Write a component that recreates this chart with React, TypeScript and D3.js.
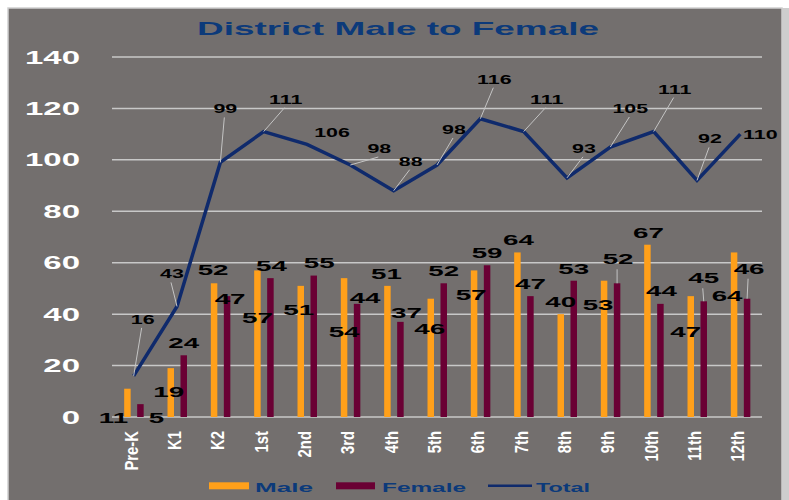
import React from 'react'
import * as d3 from 'd3'

// grade levels and head counts
const categories = ['Pre-K', 'K1', 'K2', '1st', '2nd', '3rd', '4th', '5th', '6th', '7th', '8th', '9th', '10th', '11th', '12th']
const male = [11, 19, 52, 57, 51, 54, 51, 46, 57, 64, 40, 53, 67, 47, 64]
const female = [5, 24, 47, 54, 55, 44, 37, 52, 59, 47, 53, 52, 44, 45, 46]
const total = [16, 43, 99, 111, 106, 98, 88, 98, 116, 111, 93, 105, 111, 92, 110]
const yTicks = [0, 20, 40, 60, 80, 100, 120, 140]
const series = ['Male', 'Female']

// label placement (px offsets from the mark), as the spreadsheet left them
const maleDx = [-14, -2, -1, 0, -2, 0, -1, -1, -3, 1, 0, -6, 1, -5, -7]
const maleDy = [34, 29, -8, 53, 29, 59, -7, 35, 30, -7, -7.5, 29, -7, 41, 49]
const femaleDx = [16, 0, 3, 1, 5.5, 8, 6, 0, 0, 0, 0, 1, 1, 0, 2]
const femaleDy = [19, -7, 8, -7.4, -7.3, -1, -3.6, -7.6, -7, -7, -6.7, -19, -8, -18, -25]
const totalDx = [9, -5, 5, 22, 25, 29, 17, 17, 14, 23, 17, 20, 21, 13, 20]
const totalDy = [-52, -28, -49, -28, -7, -12, -25, -31, -35, -28, -25, -34, -38, -37, 5]

const W = 789
const H = 500
const font = '"Liberation Sans", Arial, sans-serif'
const cMale = '#ffa01a'
const cFemale = '#6a0034'
const cTotal = '#0f2a6c'
const cBlue = '#0c3a7a'
const cGrid = '#c8c8c8'

export default function App() {
  const x = d3.scaleBand().domain(categories).range([112, 762])
  const bw = x.bandwidth()
  const x1 = d3.scaleBand().domain(series).range([bw / 2 - 9.5, bw / 2 + 10]).paddingInner(0.5)
  const y = d3.scaleLinear().domain([0, 140]).range([417, 57])

  const cx = (i: number) => (x(categories[i]) as number) + bw / 2
  const line = d3.line<number>().x((d, i) => cx(i)).y(d => y(d))

  const barLabel = (v: number, bx: number, by: number, key: string) => (
    <text key={key} transform={`translate(${bx},${by}) scale(1.8,1)`} textAnchor="middle"
      fontFamily={font} fontWeight="bold" fontSize={15.4} fill="#000">{v}</text>
  )

  return (
    <svg width={W} height={H} style={{ position: 'absolute', left: 0, top: 0 }}>
      <rect x={0} y={0} width={W} height={H} fill="#fff" />
      <rect x={8} y={8} width={774} height={500} fill="#736f6e" stroke="#cfcfcf" strokeWidth={1.5} />
      <rect x={782} y={8} width={7} height={492} fill="#cdcdcd" />

      <text x={398} y={35} textAnchor="middle" fontFamily={font} fontWeight="bold" fontSize={18.6}
        fill={cBlue} textLength={402} lengthAdjust="spacingAndGlyphs">District Male to Female</text>

      {yTicks.map(t => (
        <g key={t}>
          <line x1={112} x2={762} y1={y(t)} y2={y(t)} stroke={cGrid} strokeWidth={1.5} />
          <text transform={`translate(80,${y(t) + 6.6}) scale(1.83,1)`} textAnchor="end"
            fontFamily={font} fontWeight="bold" fontSize={18} fill="#fff">{t}</text>
        </g>
      ))}

      {categories.map((c, i) => (
        <g key={c}>
          <rect x={(x(c) as number) + (x1('Male') as number)} width={x1.bandwidth()}
            y={y(male[i])} height={y(0) - y(male[i])} fill={cMale} />
          <rect x={(x(c) as number) + (x1('Female') as number)} width={x1.bandwidth()}
            y={y(female[i])} height={y(0) - y(female[i])} fill={cFemale} />
          <text transform={`translate(${cx(i) - 2.5},431) scale(1.1,0.9) rotate(-90)`} textAnchor="end"
            dy="0.36em" fontFamily={font} fontWeight="bold" fontSize={16.5} fill="#fff">{c}</text>
        </g>
      ))}

      <path d={line(total) || ''} fill="none" stroke={cTotal} strokeWidth={3.5} />

      {categories.map((c, i) => {
        const mx = (x(c) as number) + (x1('Male') as number) + x1.bandwidth() / 2
        const fx = (x(c) as number) + (x1('Female') as number) + x1.bandwidth() / 2
        const lx = fx + femaleDx[i]
        const ly = y(female[i]) + femaleDy[i]
        const tx = cx(i) + totalDx[i]
        const ty = y(total[i]) + totalDy[i]
        return (
          <g key={'lab' + c}>
            {femaleDy[i] < -12 && (
              <line x1={lx - 1} y1={ly + 5} x2={fx} y2={y(female[i])} stroke="#c4c4c4" strokeWidth={1} />
            )}
            {totalDy[i] < -10 && (
              <line x1={tx - 1} y1={ty + 4} x2={cx(i)} y2={y(total[i])} stroke="#c4c4c4" strokeWidth={1} />
            )}
            {barLabel(male[i], mx + maleDx[i], y(male[i]) + maleDy[i], 'm' + c)}
            {barLabel(female[i], lx, ly, 'f' + c)}
            <text transform={`translate(${tx},${ty}) scale(1.7,1)`} textAnchor="middle"
              fontFamily={font} fontWeight="bold" fontSize={12.6} fill="#000">{total[i]}</text>
          </g>
        )
      })}

      <g fontFamily={font} fontWeight="bold" fontSize={12.6} fill={cBlue}>
        <rect x={209} y={482.3} width={40} height={7} fill={cMale} />
        <text x={255} y={491.7} textLength={58} lengthAdjust="spacingAndGlyphs">Male</text>
        <rect x={336} y={482.3} width={39} height={7} fill={cFemale} />
        <text x={382} y={491.7} textLength={84} lengthAdjust="spacingAndGlyphs">Female</text>
        <line x1={488} x2={532} y1={485.7} y2={485.7} stroke={cTotal} strokeWidth={2.5} />
        <text x={536} y={491.7} textLength={54} lengthAdjust="spacingAndGlyphs">Total</text>
      </g>
    </svg>
  )
}
